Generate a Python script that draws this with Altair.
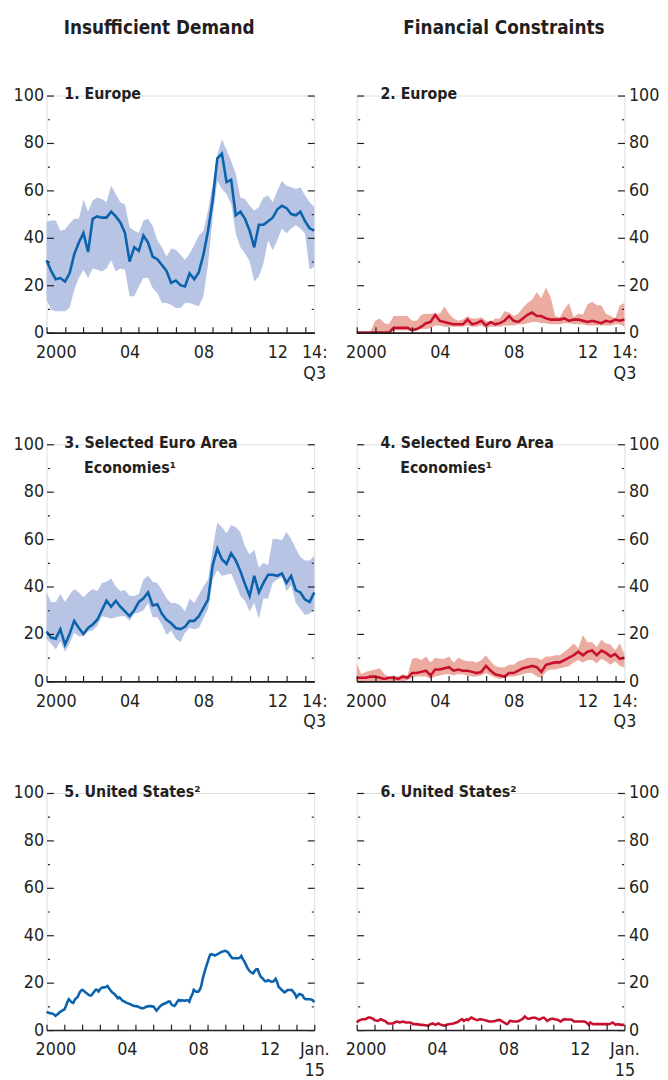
import altair as alt
import pandas as pd

FONT = "DejaVu Sans Condensed, Liberation Sans Narrow, sans-serif"
INK = "#231f20"
BLUE, BLUE_BAND = "#0b62ad", "#b8c4e4"
RED, RED_BAND = "#c8102e", "#ebaba1"

# ---- x positions (decimal years) ----
eu_quarters = [2000 + 0.25 * i for i in range(59)]          # 2000:Q1 ... 2014:Q3
us_months = [2000 + i / 12 for i in range(181)]             # Jan 2000 ... Jan 2015

# ---- Panel 1: Europe, insufficient demand ----
p1_line = [30.5, 26, 22.5, 23, 21.5, 25, 33, 38, 42, 34, 48, 49, 48.5, 48.5, 51, 49, 46.5, 42, 30, 36,
           34.5, 41, 38, 32, 31, 28.5, 26, 21, 22, 20, 19.5, 25, 22.5, 25.5, 33, 43, 56, 73.5, 75.5, 63.5,
           64.5, 49.5, 51, 48, 43, 36, 45.5, 45.5, 47, 48.5, 52, 53.5, 52.5, 50, 49.5, 51, 47, 44, 43]
p1_hi = [46.7, 47.3, 47.3, 43, 43.5, 46, 48, 48, 56, 51, 55.7, 57, 56.4, 55, 62, 58.5, 55, 54, 44.5, 43,
         42, 47.3, 48, 45, 39, 36, 32, 35.5, 35, 33, 30.6, 33.4, 37, 41, 43, 51.5, 62.7, 75, 81.5, 77,
         72.4, 67, 57, 56.4, 53.6, 51.5, 53, 57, 57.8, 55, 60, 64, 62, 61.3, 60.6, 61.3, 57.8, 55, 53]
p1_lo = [14, 9.7, 9, 9, 9, 10.5, 18, 23, 26.5, 23, 27, 26.5, 25.8, 27, 30.6, 25.8, 27, 26.5, 15.3, 15.3,
         19.5, 23, 23, 18.8, 16.7, 12.5, 12.5, 11.8, 10.4, 10.4, 12.5, 12.5, 11.8, 11.1, 15.3, 29, 48.7, 64, 60.6, 58.5,
         54.3, 41.8, 36, 33.4, 30, 21.6, 23.7, 29.2, 39, 34.8, 39, 43.9, 41.8, 43.9, 45.3, 43.9, 41.8, 26.5, 27.9]

# ---- Panel 2: Europe, financial constraints ----
p2_line = [0, 0, 0, 0, 0, 0, 0, 0, 2, 2, 2, 2, 1, 1.5, 2.5, 4, 4.5, 7.5, 5, 4.5,
           4, 3.5, 3.5, 3.5, 5.5, 3.5, 4, 5, 3, 4.5, 3.5, 4, 5, 7, 5, 4.5, 6, 7.5, 8.5, 7,
           7, 6, 5.5, 5.5, 5.5, 6, 5, 5.5, 5.5, 5, 4.5, 5, 4.5, 4, 5, 4.5, 5.5, 5, 5.5]
p2_hi = [0, 0, 0, 0.5, 5, 6, 4, 3.5, 7, 7, 7, 7, 5, 5, 7.5, 8, 8, 8, 8, 11,
         8, 6, 5, 5.5, 7, 6, 6, 6.5, 5, 4.5, 6, 6, 9, 8.5, 7, 8, 10.5, 12.5, 14, 17,
         14.5, 19, 15, 7, 6.5, 10, 12.5, 6.5, 8, 7.5, 12, 13, 11.5, 11.5, 8, 7, 6, 11.5, 12.5]
p2_lo = [0, 0, 0, 0, 0, 0, 0, 0, 1, 1, 1, 1, 0.5, 1, 1.5, 1.5, 2, 3, 3, 2.5,
         2.5, 2.5, 2.5, 2.5, 3, 2.5, 2.5, 3, 2, 2.5, 2.5, 2.5, 3, 3, 3, 3.5, 3.5, 4, 4.5, 4.5,
         4, 4, 3.5, 3.5, 3.5, 4, 4, 3.5, 3.5, 3.5, 3, 3, 3, 3, 3, 3, 3.5, 3.5, 2.5]

# ---- Panel 3: selected euro area economies, insufficient demand ----
p3_line = [21, 18.5, 18, 22, 15.5, 20, 25.5, 22.5, 20, 22.5, 24, 26, 30, 34, 31.5, 34, 31.5, 29.5, 27.5, 30,
           33.5, 35, 37.5, 32, 32.5, 28.5, 26, 24.5, 22.5, 22, 23, 25.5, 25.5, 27.5, 31, 34.5, 49, 56, 51.5, 49.5,
           54, 51, 46.5, 41, 36, 44.5, 37.5, 41.5, 45, 45, 44.5, 45.5, 41.5, 44.5, 38.5, 37.5, 34.5, 33.5, 37.5]
p3_hi = [37.5, 33.5, 33.5, 37, 33.5, 36.5, 39, 37.5, 35.5, 37.5, 39, 38, 41.5, 42, 43.5, 40, 38, 38.5, 36, 36,
         37, 43, 44.5, 42, 41.5, 38.5, 35, 33, 33, 32, 29.5, 35, 33, 36.5, 40, 43, 56, 67, 65, 62.5,
         66, 65, 63, 57, 53.5, 55.5, 48, 50, 49, 60, 60, 59.5, 63, 60, 56, 52.5, 51, 51, 53]
p3_lo = [18, 16, 13.5, 17, 12.5, 16, 20.5, 19, 19, 21, 21.5, 23.5, 27.5, 27, 26.5, 27, 27.5, 27.5, 25.5, 28.5,
         29, 30, 33, 27, 27, 24, 19.5, 21.5, 18, 16.5, 20.5, 22.5, 22, 22.5, 26.5, 30.5, 43, 47, 44.5, 45,
         45.5, 41, 36, 34, 29.5, 33, 26.5, 35, 35, 41.5, 43, 44, 38, 40.5, 33, 30.5, 28, 28.5, 30.5]

# ---- Panel 4: selected euro area economies, financial constraints ----
p4_line = [1.5, 1.5, 1.5, 2, 2, 1.5, 1, 1.5, 1.5, 1, 2, 1.5, 3.5, 3.5, 4, 4.5, 2.5, 5, 5, 5.5,
           6, 4.5, 5, 4.5, 4.5, 4, 3.5, 4, 6.5, 4.5, 3, 2.5, 2, 3.5, 3.5, 4.5, 5.5, 6, 6.5, 6,
           4, 7, 7.5, 8, 8, 9, 10, 11, 12.5, 11, 12.5, 13, 11, 13, 12, 10.5, 11.5, 9.5, 10]
p4_hi = [7.5, 3, 4, 4.5, 5, 5.5, 3, 2, 2.5, 2, 3, 2.5, 9.5, 10, 9, 10.5, 8, 10, 9.5, 9.5,
         10.5, 8, 10, 9, 8.5, 8.5, 8, 9, 11, 8.5, 6.5, 6, 6, 7, 7, 8.5, 9, 10, 10, 10,
         9, 10.5, 10.5, 11, 11, 12.5, 14, 16, 14, 19.5, 16.5, 16.5, 14.5, 17.5, 16, 15.5, 13, 16, 11.5]
p4_lo = [0, 0, 0, 0, 0, 0, 0, 0, 0, 0, 0, 0.5, 1.5, 2, 2, 2, 1, 2, 2.5, 3,
         3, 2.5, 3, 3, 2.5, 2, 2, 2.5, 3.5, 2.5, 1.5, 1, 1.5, 2, 2, 2.5, 3, 3.5, 3.5, 2,
         1.5, 4, 5, 5, 5.5, 6, 6.5, 8, 9, 8, 9, 9, 7.5, 9.5, 8.5, 7, 8.5, 6.5, 6]

# ---- Panel 5: United States, insufficient demand (monthly) ----
p5_line = [7.7, 7.4, 7.2, 7.0, 7.0, 6.6, 6.0, 6.5, 7.0, 7.6, 8.0, 8.4,
           8.7, 10.0, 11.8, 13.0, 12.3, 11.7, 11.5, 12.8, 13.5, 14.0, 15.5, 16.5,
           17.0, 16.6, 16.0, 15.5, 15.0, 14.6, 14.6, 15.3, 16.2, 17.0, 17.0, 16.3,
           17.2, 17.8, 18.0, 18.0, 18.2, 18.6, 17.6, 16.8, 16.0, 15.5, 15.0, 14.2,
           13.4, 13.8, 13.2, 12.4, 12.2, 11.8, 11.5, 11.2, 11.0, 10.6, 10.4, 10.2,
           10.1, 10.0, 9.8, 9.4, 9.2, 9.2, 9.5, 9.9, 10.0, 10.1, 10.1, 10.0,
           9.9, 9.0, 8.2, 9.0, 9.8, 10.4, 10.8, 11.1, 11.3, 11.7, 12.0, 12.0,
           10.8, 10.4, 10.2, 11.0, 12.0, 12.7, 12.3, 12.6, 12.5, 12.3, 12.6, 12.6,
           12.0, 13.8, 15.0, 17.0, 16.4, 16.2, 16.2, 17.0, 18.5, 21.5, 24.0, 26.0,
           28.0, 30.0, 31.8, 32.0, 31.8, 31.4, 31.7, 32.0, 32.4, 32.8, 33.0, 33.3,
           33.4, 33.2, 32.8, 31.9, 31.0, 30.3, 30.3, 30.3, 30.3, 30.3, 30.5, 31.3,
           29.9, 29.0, 27.7, 26.3, 25.3, 24.6, 24.2, 23.9, 25.0, 25.6, 25.6, 23.9,
           22.5, 22.0, 21.3, 20.6, 20.6, 21.1, 20.8, 20.4, 20.4, 20.8, 21.6, 20.4,
           18.3, 17.7, 17.0, 16.5, 15.9, 16.3, 16.9, 16.9, 16.9, 16.9, 16.0, 15.3,
           13.8, 14.5, 15.2, 15.0, 14.8, 13.6, 13.1, 13.0, 13.0, 13.0, 12.9, 12.6,
           11.8]

# ---- Panel 6: United States, financial constraints (monthly) ----
p6_line = [3.2, 3.8, 4.2, 4.4, 4.6, 4.6, 4.6, 5.0, 5.3, 5.3, 5.0, 4.8,
           4.2, 4.0, 3.9, 4.1, 4.6, 4.4, 4.0, 3.9, 3.3, 2.8, 2.8, 2.8,
           2.8, 3.0, 3.4, 3.6, 3.4, 3.2, 3.4, 3.6, 3.4, 3.2, 3.2, 3.2,
           3.2, 2.9, 2.5, 2.5, 2.5, 2.4, 2.3, 2.2, 2.2, 2.1, 2.0, 1.9,
           1.8, 2.3, 2.6, 2.8, 2.5, 2.2, 2.6, 2.8, 2.4, 2.2, 2.0, 1.8,
           2.2, 2.4, 2.5, 2.6, 2.7, 2.8, 3.0, 3.2, 3.4, 3.9, 4.4, 4.6,
           3.9, 4.2, 4.6, 4.2, 4.8, 5.3, 5.0, 4.6, 4.4, 4.2, 4.4, 4.6,
           4.5, 4.4, 4.2, 4.0, 3.8, 3.6, 3.6, 3.6, 3.7, 3.8, 4.0, 4.2,
           4.3, 4.0, 3.6, 3.2, 2.8, 2.5, 3.0, 3.9, 3.8, 3.6, 3.6, 3.6,
           3.6, 3.8, 4.2, 4.5, 5.0, 5.7, 5.2, 4.8, 4.8, 5.0, 5.2, 5.2,
           5.2, 4.9, 4.6, 4.5, 4.8, 5.2, 5.2, 4.6, 3.9, 4.2, 4.6, 4.8,
           4.8, 4.6, 4.5, 4.4, 4.0, 3.6, 4.0, 4.5, 4.6, 4.5, 4.5, 4.5,
           4.5, 4.2, 3.6, 3.6, 3.6, 3.6, 3.6, 3.6, 3.6, 3.6, 3.4, 2.8,
           2.2, 3.2, 2.8, 2.5, 2.5, 2.5, 2.5, 2.5, 2.5, 2.5, 2.5, 2.5,
           2.5, 2.5, 2.6, 2.8, 3.2, 2.8, 2.2, 2.4, 2.4, 2.3, 2.2, 2.2,
           2.2]

# ---- axis labels and titles ----
y_major = [0, 20, 40, 60, 80, 100]
y_minor = [10, 30, 50, 70, 90]
eu_year_ticks = list(range(2000, 2015))
us_year_ticks = list(range(2000, 2016))
eu_xlabel_pos = [2000.5, 2004.5, 2008.5, 2012.5, 2014.5]
eu_xlabel_txt = [["2000"], ["04"], ["08"], ["12"], ["14:", "Q3"]]
us_xlabel_pos = [2000.5, 2004.5, 2008.5, 2012.5, 2015]
us_xlabel_txt = [["2000"], ["04"], ["08"], ["12"], ["Jan.", "15"]]

col_titles = ["Insufficient Demand", "Financial Constraints"]
panel_titles = [
    ["1. Europe"], ["2. Europe"],
    ["3. Selected Euro Area", "Economies\u00b9"], ["4. Selected Euro Area", "Economies\u00b9"],
    ["5. United States\u00b2"], ["6. United States\u00b2"],
]

W, H = 271, 240
LBL = 18


def label_expr(pos, txt):
    expr = "''"
    for p, t in reversed(list(zip(pos, txt))):
        lit = "'" + t[0] + "'" if len(t) == 1 else "[" + ",".join("'" + s + "'" for s in t) + "]"
        expr = f"datum.value == {p} ? {lit} : ({expr})"
    return expr


def panel(x, line, lo, hi, line_color, band_color, side, titles, x_end, year_ticks, lab_pos, lab_txt,
          col_title=None, col_x=0):
    df = pd.DataFrame({"x": x, "v": line})
    if lo is not None:
        df["lo"] = lo
        df["hi"] = hi
    other = "right" if side == "left" else "left"
    xs = alt.Scale(domain=[2000, x_end], nice=False, zero=False)
    ys = alt.Scale(domain=[0, 100], nice=False)
    common = dict(grid=False, title=None, zindex=2)
    lab_style = dict(labelFont=FONT, labelFontSize=LBL, labelColor=INK, labelOverlap=False,
                     labelFlush=False, labelBound=False)

    ax_x_dom = alt.Axis(orient="bottom", domain=True, domainColor=INK, domainWidth=1.6,
                        ticks=False, labels=False, **common)
    ax_x_tick = alt.Axis(orient="bottom", values=year_ticks, domain=False, ticks=True, tickSize=6,
                         offset=-6, tickColor=INK, tickWidth=1.2, labels=False, **common)
    ax_x_lab = alt.Axis(orient="bottom", values=lab_pos, labelExpr=label_expr(lab_pos, lab_txt),
                        domain=False, ticks=False, tickSize=0, labelPadding=11, labelLineHeight=21,
                        **lab_style, **common)
    ax_y_maj = alt.Axis(orient=side, values=y_major, domain=False, tickSize=7, offset=-7, tickColor=INK,
                        tickWidth=1.2, labels=True, labelPadding=3 if side == "left" else 4,
                        **lab_style, **common)
    ax_y_min = alt.Axis(orient=side, values=y_minor, domain=False, tickSize=2, offset=-3, tickColor=INK,
                        tickWidth=1.2, labels=False, **common)
    ax_o_maj = alt.Axis(orient=other, values=y_major, domain=False, tickSize=7, offset=-7, tickColor=INK,
                        tickWidth=1.2, labels=False, **common)
    ax_o_min = alt.Axis(orient=other, values=y_minor, domain=False, tickSize=2, offset=-3, tickColor=INK,
                        tickWidth=1.2, labels=False, **common)

    base = alt.Chart(df)
    if lo is not None:
        first = base.mark_area(color=band_color, opacity=1).encode(
            x=alt.X("x:Q", scale=xs, axis=ax_x_dom),
            y=alt.Y("lo:Q", scale=ys, axis=ax_y_maj), y2="hi:Q")
    else:
        first = base.mark_line(strokeOpacity=0).encode(
            x=alt.X("x:Q", scale=xs, axis=ax_x_dom),
            y=alt.Y("v:Q", scale=ys, axis=ax_y_maj))
    main = base.mark_line(color=line_color, strokeWidth=2.6).encode(
        x=alt.X("x:Q", scale=xs, axis=ax_x_tick),
        y=alt.Y("v:Q", scale=ys, axis=ax_y_min))
    d1 = base.mark_line(strokeOpacity=0).encode(
        x=alt.X("x:Q", scale=xs, axis=ax_x_lab),
        y=alt.Y("v:Q", scale=ys, axis=ax_o_maj))
    d2 = base.mark_line(strokeOpacity=0).encode(
        x=alt.X("x:Q", scale=xs, axis=None),
        y=alt.Y("v:Q", scale=ys, axis=ax_o_min))

    tx = 18 if side == "left" else 24
    texts = []
    for k, t in enumerate(titles):
        texts.append(alt.Chart(pd.DataFrame({"t": [t]})).mark_text(
            align="left", baseline="alphabetic", font=FONT, fontSize=16, fontWeight="bold", color=INK
        ).encode(x=alt.value(tx if k == 0 else tx + 20), y=alt.value(4 + 25 * k), text="t:N"))
    if col_title is not None:
        texts.append(alt.Chart(pd.DataFrame({"t": [col_title]})).mark_text(
            align="center", baseline="alphabetic", font=FONT, fontSize=19, fontWeight="bold", color=INK
        ).encode(x=alt.value(col_x), y=alt.value(-62), text="t:N"))

    return alt.layer(first, main, d1, d2, *texts).properties(width=W, height=H).resolve_axis(
        x="independent", y="independent")


p1 = panel(eu_quarters, p1_line, p1_lo, p1_hi, BLUE, BLUE_BAND, "left", panel_titles[0], 2014.5,
           eu_year_ticks, eu_xlabel_pos, eu_xlabel_txt, col_titles[0], 114)
p2 = panel(eu_quarters, p2_line, p2_lo, p2_hi, RED, RED_BAND, "right", panel_titles[1], 2014.5,
           eu_year_ticks, eu_xlabel_pos, eu_xlabel_txt, col_titles[1], 149)
p3 = panel(eu_quarters, p3_line, p3_lo, p3_hi, BLUE, BLUE_BAND, "left", panel_titles[2], 2014.5,
           eu_year_ticks, eu_xlabel_pos, eu_xlabel_txt)
p4 = panel(eu_quarters, p4_line, p4_lo, p4_hi, RED, RED_BAND, "right", panel_titles[3], 2014.5,
           eu_year_ticks, eu_xlabel_pos, eu_xlabel_txt)
p5 = panel(us_months, p5_line, None, None, BLUE, None, "left", panel_titles[4], 2015,
           us_year_ticks, us_xlabel_pos, us_xlabel_txt)
p6 = panel(us_months, p6_line, None, None, RED, None, "right", panel_titles[5], 2015,
           us_year_ticks, us_xlabel_pos, us_xlabel_txt)

left = alt.vconcat(p1, p3, p5, spacing=52)
right = alt.vconcat(p2, p4, p6, spacing=52)

chart = alt.hconcat(left, right, spacing=14).properties(
    padding={"left": 4, "top": 4, "right": 0, "bottom": 0}
).configure_view(stroke=None).configure(font=FONT)

chart.save("out.html", embed_options={"renderer": "svg", "actions": False})
